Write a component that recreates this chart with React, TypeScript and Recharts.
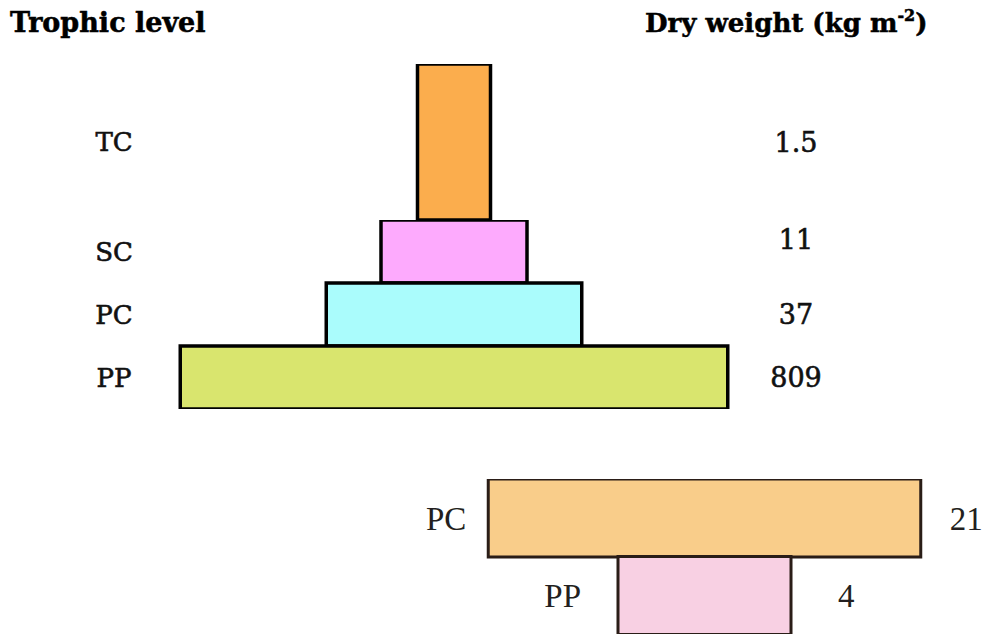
import { BarChart, Bar, Cell, XAxis, YAxis, LabelList } from 'recharts'

// upper pyramid: pyramid of biomass (grassland-like)
const topLevels = ['TC', 'SC', 'PC', 'PP']
const topDryWeight = ['1.5', '11', '37', '809']
// drawn widths of the layers (schematic, not to scale)
const topWidths = [1, 2, 3.5, 7.5]
const topColors = ['#fbad4d', '#fdaafd', '#aafcfc', '#d9e56e']

// lower pyramid: inverted pyramid of biomass (sea)
const bottomLevels = ['PC', 'PP']
const bottomDryWeight = ['21', '4']
const bottomWidths = [2.5, 1]
const bottomColors = ['#f9cd8a', '#f8d0e3']

const topRows = topLevels.map((level, i) => ({
  level,
  weight: topDryWeight[i],
  span: [-topWidths[i] / 2, topWidths[i] / 2],
  color: topColors[i],
}))

const bottomRows = bottomLevels.map((level, i) => ({
  level,
  weight: bottomDryWeight[i],
  span: [-bottomWidths[i] / 2, bottomWidths[i] / 2],
  color: bottomColors[i],
}))

const serif = '"DejaVu Serif", serif'
const times = '"Liberation Serif", "Times New Roman", serif'

// label gaps from the bar edges in the lower pyramid
const leftGap = [22, 37]
const rightGap = [29, 47]

function LevelTick(props: any) {
  const { x, y, payload } = props
  return (
    <text
      x={x}
      y={y}
      dy="0.36em"
      textAnchor="middle"
      fontFamily={serif}
      fontSize={26}
      fill="#111"
      stroke="#111"
      strokeWidth={0.6}
    >
      {payload.value}
    </text>
  )
}

function WeightTick(props: any) {
  const { x, y, payload } = props
  // the "11" sits a little above its layer in the original
  const shift = payload.value === '11' ? -12 : 0
  return (
    <text
      x={x}
      y={y + shift}
      dy="0.36em"
      textAnchor="middle"
      fontFamily={serif}
      fontSize={27}
      fill="#111"
      stroke="#111"
      strokeWidth={0.6}
    >
      {payload.value}
    </text>
  )
}

function TopPyramid({ rows, height }: { rows: typeof topRows; height: number }) {
  return (
    <BarChart
      width={987}
      height={height}
      layout="vertical"
      data={rows}
      margin={{ top: 0, right: 0, bottom: 0, left: 0 }}
      barCategoryGap={0}
      barGap={0}
    >
      <XAxis type="number" domain={[-4, 4]} hide />
      <YAxis
        yAxisId="lvl"
        type="category"
        dataKey="level"
        width={162}
        axisLine={false}
        tickLine={false}
        tickSize={0}
        tickMargin={48}
        tick={<LevelTick />}
      />
      <YAxis
        yAxisId="wt"
        orientation="right"
        type="category"
        dataKey="weight"
        width={241}
        axisLine={false}
        tickLine={false}
        tickSize={0}
        tickMargin={50}
        tick={<WeightTick />}
      />
      <Bar yAxisId="lvl" dataKey="span" stroke="#000" strokeWidth={3.5} isAnimationActive={false}>
        {rows.map((r) => (
          <Cell key={r.level} fill={r.color} />
        ))}
      </Bar>
    </BarChart>
  )
}

function SideLabel(props: any) {
  const { x, y, width, height, index, value, side } = props
  const cy = y + height / 2
  if (side === 'left') {
    return (
      <text x={x - leftGap[index]} y={cy} dy="0.36em" textAnchor="end" fontFamily={times} fontSize={33} fill="#231f20">
        {value}
      </text>
    )
  }
  return (
    <text x={x + width + rightGap[index]} y={cy} dy="0.36em" textAnchor="start" fontFamily={times} fontSize={33} fill="#231f20">
      {value}
    </text>
  )
}

export default function App() {
  return (
    <div style={{ position: 'absolute', left: 0, top: 0, width: 987, height: 634, background: '#fff', overflow: 'hidden' }}>
      <svg width={987} height={60} style={{ position: 'absolute', left: 0, top: 0 }}>
        <text x={10} y={32} fontFamily={serif} fontWeight="bold" fontSize={27} fill="#000" stroke="#000" strokeWidth={0.5}>
          Trophic level
        </text>
        <text x={645} y={32} fontFamily={serif} fontWeight="bold" fontSize={26} fill="#000" stroke="#000" strokeWidth={0.5}>
          Dry weight (kg m
          <tspan fontSize={16} dy={-11}>-2</tspan>
          <tspan dy={11}>)</tspan>
        </text>
      </svg>

      <div style={{ position: 'absolute', left: 0, top: 64 }}>
        <TopPyramid rows={topRows.slice(0, 1)} height={156} />
      </div>
      <div style={{ position: 'absolute', left: 0, top: 220 }}>
        <TopPyramid rows={topRows.slice(1)} height={189} />
      </div>

      <div style={{ position: 'absolute', left: 0, top: 479 }}>
        <BarChart
          width={987}
          height={155}
          layout="vertical"
          data={bottomRows}
          margin={{ top: 0, right: 23, bottom: 0, left: 445 }}
          barCategoryGap={0}
          barGap={0}
        >
          <XAxis type="number" domain={[-1.5, 1.5]} hide />
          <YAxis type="category" dataKey="level" hide />
          <Bar dataKey="span" stroke="#2a1d17" strokeWidth={3} isAnimationActive={false}>
            {bottomRows.map((r) => (
              <Cell key={r.level} fill={r.color} />
            ))}
            <LabelList dataKey="level" content={<SideLabel side="left" />} />
            <LabelList dataKey="weight" content={<SideLabel side="right" />} />
          </Bar>
        </BarChart>
      </div>
    </div>
  )
}
